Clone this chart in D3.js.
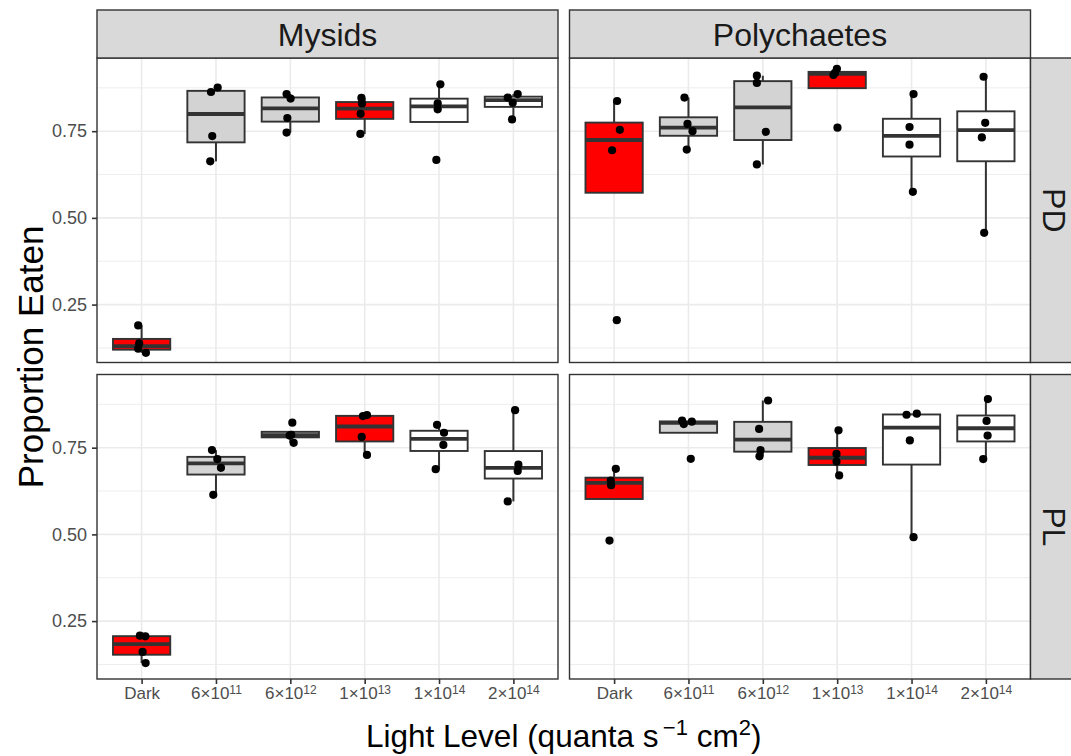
<!DOCTYPE html>
<html>
<head>
<meta charset="utf-8">
<script src="https://cdn.jsdelivr.net/npm/d3@7"></script>
<style>
    body { margin: 0; background: #fff; }
    svg { font-family: "Liberation Sans", Arial, Helvetica, sans-serif; }
</style>
</head>
<body>
<div id="chart"></div>
<script>
// Categories and labels
var lightLevels = ["Dark", "6e11", "6e12", "1e13", "1e14", "2e14"];
var tickBase = ["Dark", "6\u00d710", "6\u00d710", "1\u00d710", "1\u00d710", "2\u00d710"];
var tickExp = ["", "11", "12", "13", "14", "14"];
var preyNames = ["Mysids", "Polychaetes"];
var treatments = ["PD", "PL"];
var boxFill = ["#FF0000", "#D3D3D3", "#D3D3D3", "#FF0000", "#FFFFFF", "#FFFFFF"];

// Y axis breaks and limits
var yTicks = [0.25, 0.5, 0.75];
var yMinor = [0.125, 0.375, 0.625, 0.875];
var yLimits = [0.083, 0.961];

// Proportion eaten per light level (4 replicates each)
var mysidsPD = [
    [0.190, 0.138, 0.123, 0.111],
    [0.876, 0.863, 0.736, 0.663],
    [0.857, 0.844, 0.788, 0.746],
    [0.846, 0.830, 0.800, 0.742],
    [0.885, 0.830, 0.813, 0.667],
    [0.857, 0.847, 0.832, 0.784]
];
var polychaetesPD = [
    [0.837, 0.754, 0.695, 0.205],
    [0.847, 0.771, 0.750, 0.697],
    [0.910, 0.889, 0.748, 0.654],
    [0.930, 0.918, 0.912, 0.760],
    [0.857, 0.762, 0.711, 0.575],
    [0.907, 0.774, 0.732, 0.457]
];
var mysidsPL = [
    [0.208, 0.206, 0.161, 0.129],
    [0.743, 0.717, 0.692, 0.614],
    [0.822, 0.787, 0.785, 0.764],
    [0.844, 0.841, 0.781, 0.729],
    [0.816, 0.793, 0.758, 0.688],
    [0.858, 0.701, 0.683, 0.595]
];
var polychaetesPL = [
    [0.689, 0.655, 0.642, 0.482],
    [0.828, 0.825, 0.818, 0.718],
    [0.886, 0.804, 0.743, 0.725],
    [0.800, 0.732, 0.710, 0.670],
    [0.848, 0.845, 0.771, 0.492],
    [0.890, 0.827, 0.785, 0.717]
];

// Horizontal jitter of each point (fraction of category spacing)
var mysidsPDJitter = [
    [-0.046, -0.032, -0.046, 0.058],
    [0.023, -0.067, -0.050, -0.077],
    [-0.050, 0.004, -0.040, -0.050],
    [-0.044, -0.036, -0.054, -0.058],
    [0.018, -0.018, -0.018, -0.036],
    [0.058, -0.076, -0.009, -0.018]
];
var polychaetesPDJitter = [
    [0.040, 0.077, -0.027, 0.036],
    [-0.054, -0.013, 0.054, -0.023],
    [-0.080, -0.080, 0.040, -0.080],
    [-0.004, -0.030, -0.050, 0.004],
    [0.027, -0.027, -0.027, 0.018],
    [-0.031, -0.009, -0.054, -0.023]
];
var mysidsPLJitter = [
    [-0.023, 0.050, 0.013, 0.054],
    [-0.054, 0.018, 0.067, -0.036],
    [0.027, 0.013, -0.009, 0.045],
    [0.031, -0.023, -0.040, 0.031],
    [-0.027, 0.067, 0.058, -0.045],
    [0.023, 0.067, 0.058, -0.076]
];
var polychaetesPLJitter = [
    [0.023, -0.045, -0.040, -0.062],
    [-0.086, 0.045, -0.063, 0.031],
    [0.071, -0.050, -0.031, -0.045],
    [0.018, -0.009, -0.009, 0.027],
    [0.071, -0.067, -0.023, 0.027],
    [0.027, 0.009, 0.023, -0.036]
];

var panels = [
    { col: 0, row: 0, values: mysidsPD, jitter: mysidsPDJitter },
    { col: 1, row: 0, values: polychaetesPD, jitter: polychaetesPDJitter },
    { col: 0, row: 1, values: mysidsPL, jitter: mysidsPLJitter },
    { col: 1, row: 1, values: polychaetesPL, jitter: polychaetesPLJitter }
];

// Layout
var w = 1071, h = 756;
var colX = [97, 569.5], panelW = 461;
var rowY = [58, 374.5], panelH = 304.5;
var stripTop = 10, stripH = 48, stripRightX = 1030.5;
var boxWidth = 0.77;
var dark = "#333333";

var svg = d3.select("#chart").append("svg")
    .attr("width", w)
    .attr("height", h);

var x = d3.scalePoint().domain(lightLevels).range([0, panelW]).padding(0.6);
var step = x.step();
var y = d3.scaleLinear().domain(yLimits).range([panelH, 0]);

// ggplot-style box statistics (R type 7 quantiles, 1.5 IQR whiskers)
function boxStats(vals) {
    var s = vals.slice().sort(d3.ascending);
    var q1 = d3.quantile(s, 0.25), med = d3.quantile(s, 0.5), q3 = d3.quantile(s, 0.75);
    var iqr = q3 - q1;
    var inside = s.filter(function(v) { return v >= q1 - 1.5 * iqr && v <= q3 + 1.5 * iqr; });
    return { q1: q1, med: med, q3: q3, lo: d3.min(inside), hi: d3.max(inside) };
}

panels.forEach(function(p) {
    var g = svg.append("g")
        .attr("transform", "translate(" + colX[p.col] + "," + rowY[p.row] + ")");

    g.append("rect").attr("width", panelW).attr("height", panelH).attr("fill", "#fff");

    // grid
    g.selectAll(".minor").data(yMinor).enter().append("line")
        .attr("x1", 0).attr("x2", panelW)
        .attr("y1", function(d) { return y(d); }).attr("y2", function(d) { return y(d); })
        .attr("stroke", "#EBEBEB").attr("stroke-width", 0.9);
    g.selectAll(".major").data(yTicks).enter().append("line")
        .attr("x1", 0).attr("x2", panelW)
        .attr("y1", function(d) { return y(d); }).attr("y2", function(d) { return y(d); })
        .attr("stroke", "#EBEBEB").attr("stroke-width", 1.6);
    g.selectAll(".vgrid").data(lightLevels).enter().append("line")
        .attr("x1", function(d) { return x(d); }).attr("x2", function(d) { return x(d); })
        .attr("y1", 0).attr("y2", panelH)
        .attr("stroke", "#EBEBEB").attr("stroke-width", 1.6);

    var stats = p.values.map(boxStats);

    // whiskers
    stats.forEach(function(s, i) {
        var cx = x(lightLevels[i]);
        g.append("line").attr("x1", cx).attr("x2", cx)
            .attr("y1", y(s.q3)).attr("y2", y(s.hi))
            .attr("stroke", dark).attr("stroke-width", 2);
        g.append("line").attr("x1", cx).attr("x2", cx)
            .attr("y1", y(s.q1)).attr("y2", y(s.lo))
            .attr("stroke", dark).attr("stroke-width", 2);
    });

    // boxes
    g.selectAll(".box").data(stats).enter().append("rect")
        .attr("x", function(d, i) { return x(lightLevels[i]) - boxWidth * step / 2; })
        .attr("width", boxWidth * step)
        .attr("y", function(d) { return y(d.q3); })
        .attr("height", function(d) { return y(d.q1) - y(d.q3); })
        .attr("fill", function(d, i) { return boxFill[i]; })
        .attr("stroke", dark).attr("stroke-width", 1.9);

    // medians
    g.selectAll(".median").data(stats).enter().append("line")
        .attr("x1", function(d, i) { return x(lightLevels[i]) - boxWidth * step / 2; })
        .attr("x2", function(d, i) { return x(lightLevels[i]) + boxWidth * step / 2; })
        .attr("y1", function(d) { return y(d.med); })
        .attr("y2", function(d) { return y(d.med); })
        .attr("stroke", dark).attr("stroke-width", 3.8);

    // points
    p.values.forEach(function(vals, i) {
        vals.forEach(function(v, j) {
            g.append("circle")
                .attr("cx", x(lightLevels[i]) + p.jitter[i][j] * step)
                .attr("cy", y(v))
                .attr("r", 4.1)
                .attr("fill", "#000");
        });
    });

    // border
    g.append("rect").attr("width", panelW).attr("height", panelH)
        .attr("fill", "none").attr("stroke", dark).attr("stroke-width", 1.4);

    // y axis on left column
    if (p.col === 0) {
        var ya = g.append("g")
            .call(d3.axisLeft(y).tickValues(yTicks).tickFormat(d3.format(".2f")).tickSize(5).tickPadding(5));
        ya.select(".domain").remove();
        ya.selectAll("line").attr("stroke", dark).attr("stroke-width", 1.6);
        ya.selectAll("text").attr("fill", "#4D4D4D").attr("font-size", 18)
            .attr("font-family", "'Liberation Sans', Arial, sans-serif");
    }

    // x axis on bottom row
    if (p.row === 1) {
        var xa = g.append("g")
            .attr("transform", "translate(0," + panelH + ")")
            .call(d3.axisBottom(x).tickSize(5).tickPadding(3));
        xa.select(".domain").remove();
        xa.selectAll("line").attr("stroke", dark).attr("stroke-width", 1.6);
        xa.selectAll("text").each(function(d, i) {
            var t = d3.select(this).text(null)
                .attr("fill", "#4D4D4D").attr("font-size", 17)
                .attr("font-family", "'Liberation Sans', Arial, sans-serif");
            t.append("tspan").text(tickBase[i]);
            if (tickExp[i]) {
                t.append("tspan").attr("dy", "-0.45em").attr("font-size", 12).text(tickExp[i]);
            }
        });
    }
});

// top strips
preyNames.forEach(function(name, i) {
    svg.append("rect")
        .attr("x", colX[i]).attr("y", stripTop)
        .attr("width", panelW).attr("height", stripH)
        .attr("fill", "#D9D9D9").attr("stroke", dark).attr("stroke-width", 1.4);
    svg.append("text")
        .attr("x", colX[i] + panelW / 2).attr("y", stripTop + stripH / 2)
        .attr("dy", "0.36em")
        .attr("text-anchor", "middle")
        .attr("font-size", 32).attr("fill", "#1A1A1A")
        .text(name);
});

// right strips
treatments.forEach(function(name, i) {
    svg.append("rect")
        .attr("x", stripRightX).attr("y", rowY[i])
        .attr("width", stripH).attr("height", panelH)
        .attr("fill", "#D9D9D9").attr("stroke", dark).attr("stroke-width", 1.4);
    svg.append("text")
        .attr("transform", "translate(" + (stripRightX + stripH / 2) + "," + (rowY[i] + panelH / 2) + ") rotate(90)")
        .attr("dy", "0.36em")
        .attr("text-anchor", "middle")
        .attr("font-size", 32).attr("fill", "#1A1A1A")
        .text(name);
});

// axis titles
svg.append("text")
    .attr("transform", "translate(43,357) rotate(-90)")
    .attr("text-anchor", "middle")
    .attr("font-size", 35).attr("fill", "#000")
    .text("Proportion Eaten");

var xt = svg.append("text")
    .attr("x", (colX[0] + stripRightX) / 2).attr("y", 747)
    .attr("text-anchor", "middle")
    .attr("font-size", 31.5).attr("fill", "#000");
xt.append("tspan").text("Light Level (quanta s");
xt.append("tspan").attr("dy", -12).attr("font-size", 22).text("\u2009\u22121");
xt.append("tspan").attr("dy", 12).text(" cm");
xt.append("tspan").attr("dy", -12).attr("font-size", 22).text("2");
xt.append("tspan").attr("dy", 12).text(")");
</script>
</body>
</html>
